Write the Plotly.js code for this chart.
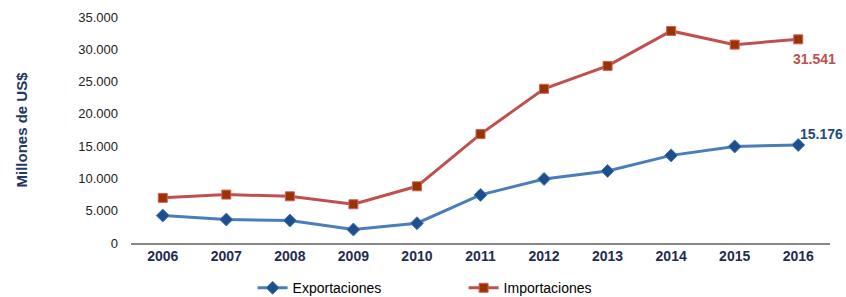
<!DOCTYPE html>
<html><head><meta charset="utf-8">
<script src="https://cdn.plot.ly/plotly-3.0.1.min.js"></script>
<style>html,body{margin:0;padding:0;background:#fff}#c{width:846px;height:297px}</style>
</head><body><div id="c"></div>
<script>
const years = ['2006','2007','2008','2009','2010','2011','2012','2013','2014','2015','2016'];
const exportaciones = [4250, 3630, 3480, 2090, 3060, 7450, 9920, 11160, 13570, 14950, 15176];
const importaciones = [6990, 7500, 7230, 6000, 8780, 16870, 23880, 27430, 32840, 30720, 31541];
const yTicks = [0, 5000, 10000, 15000, 20000, 25000, 30000, 35000];
const yTickText = ['0', '5.000', '10.000', '15.000', '20.000', '25.000', '30.000', '35.000'];
const lastExp = '15.176';
const lastImp = '31.541';

const font = 'Liberation Sans, Arial, sans-serif';
const traces = [
  {x: years, y: exportaciones, name: 'Exportaciones', type: 'scatter', mode: 'lines+markers',
   line: {color: '#4A7EBB', width: 3}, cliponaxis: false,
   marker: {symbol: 'diamond', size: 10, color: '#1F4E8C', line: {color: '#4A7EBB', width: 1}}},
  {x: years, y: importaciones, name: 'Importaciones', type: 'scatter', mode: 'lines+markers',
   line: {color: '#C0504D', width: 3}, cliponaxis: false,
   marker: {symbol: 'square', size: 9, color: '#993300', line: {color: '#D0605D', width: 1}}}
];
const n = years.length - 1;
const layout = {
  width: 846, height: 297,
  margin: {l: 131, r: 16, t: 17, b: 54, autoexpand: false},
  paper_bgcolor: '#fff', plot_bgcolor: '#fff',
  font: {family: font, size: 13, color: '#222'},
  showlegend: true,
  legend: {orientation: 'h', xref: 'container', x: 0.548, xanchor: 'center', y: -0.2, yanchor: 'middle',
           font: {family: font, size: 14, color: '#000'}, itemwidth: 30, entrywidth: 166, tracegroupgap: 0,
           bgcolor: 'rgba(0,0,0,0)'},
  xaxis: {type: 'category', range: [-0.5, 10.5], showgrid: false, zeroline: false,
          showline: true, linecolor: '#868686', linewidth: 1.5, ticks: '',
          tickfont: {family: font, size: 14, color: '#1F2D4F', weight: 'bold'}},
  yaxis: {range: [0, 35000], tickvals: yTicks, ticktext: yTickText, showgrid: false,
          zeroline: false, showline: false, ticks: '', ticklabelstandoff: 12,
          tickfont: {family: font, size: 13, color: '#222'},
          title: {text: 'Millones de US$', standoff: 46,
                  font: {family: font, size: 15, color: '#1F3864', weight: 'bold'}}},
  annotations: [
    {xref: 'x', yref: 'y', x: n, y: exportaciones[n], text: lastExp, showarrow: false, xanchor: 'left', yanchor: 'bottom',
     xshift: 0, yshift: 1, font: {family: font, size: 14, color: '#1F497D', weight: 'bold'}},
    {xref: 'x', yref: 'y', x: n, y: importaciones[n], text: lastImp, showarrow: false, xanchor: 'center', yanchor: 'top',
     xshift: 16, yshift: -10, font: {family: font, size: 14, color: '#C0504D', weight: 'bold'}}
  ]
};
Plotly.newPlot('c', traces, layout, {displayModeBar: false, staticPlot: true});
</script></body></html>
